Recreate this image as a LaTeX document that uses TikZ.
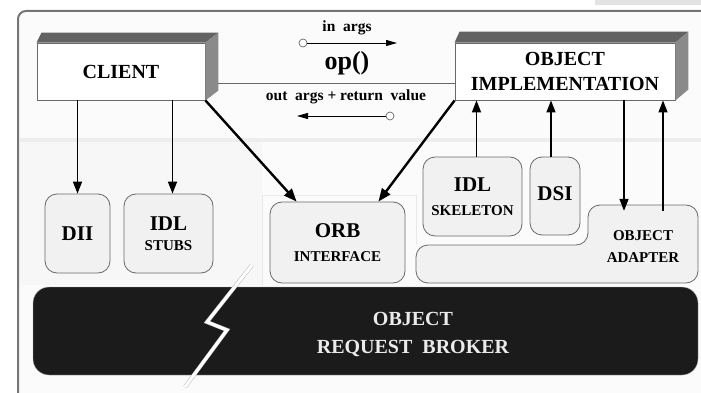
\documentclass[tikz,border=0pt]{standalone}
\usepackage{fontspec}
\setmainfont{Liberation Serif}
\usetikzlibrary{arrows.meta,positioning}
\definecolor{frameline}{RGB}{118,118,118}
\definecolor{paper}{RGB}{251,251,251}
\definecolor{boxfill}{RGB}{241,241,241}
\definecolor{boxline}{RGB}{105,105,105}
\definecolor{topface}{RGB}{98,98,98}
\definecolor{sideface}{RGB}{138,138,138}
\definecolor{orbblack}{RGB}{27,27,27}

\begin{document}
\begin{tikzpicture}[x=1pt,y=-1pt,
      block/.style={draw=boxline, fill=white, line width=0.9pt, minimum height=57pt, align=center, inner sep=0pt, font=\bfseries\fontsize{20}{25}\selectfont},
      unit/.style={draw=boxline, fill=boxfill, rounded corners=12pt, line width=0.8pt, align=center, inner sep=0pt, font=\bfseries\fontsize{21}{24}\selectfont},
      bus/.style={fill=orbblack, draw=gray!60, rounded corners=16pt, minimum width=665pt, minimum height=88pt},
      bustext/.style={text=white!92!black, align=center, font=\bfseries\fontsize{20}{28}\selectfont},
      lbl/.style={font=\bfseries\fontsize{15.5}{17}\selectfont},
      port/.style={circle, draw=boxline, fill=white, line width=0.7pt, inner sep=0pt, minimum size=8pt},
      parr/.style={-{Triangle[length=11pt,width=6pt]}, line width=0.8pt},
      arr/.style={-{Triangle[length=12pt,width=9pt]}, line width=1.5pt},
      darr/.style={-{Triangle[length=13pt,width=10pt]}, line width=2.4pt}
    ]
      \useasboundingbox (0,0) rectangle (701,393);
      % frame and background
      \fill[gray!22] (595,0) rectangle (701,5);
      \draw[frameline, line width=2pt, fill=paper, rounded corners=8pt] (18,11) rectangle (715,405);
      \draw[gray!14, line width=3pt] (20,140) -- (701,140);
      \fill[black!3] (20,142) rectangle (262,285);
      \draw[gray!18, line width=1pt] (262,285) -- (262,195) -- (416,195) -- (416,245);

      % the broker
      \node[bus] (orb) at (365.5,331) {};
      \node[bustext] (orbtext) at (413,334) {OBJECT\\REQUEST\ \ BROKER};
      \draw[gray!55, double=white, double distance=3pt, line width=0.5pt]
        (252,265) -- (207,322) -- (227,330) -- (185,387);

      % client and object implementation
      \node[block, minimum width=168pt] (client) at (121,71.5) {\raisebox{-5pt}{CLIENT}};
      \node[block, minimum width=220pt] (objimpl) at (565,71.5) {OBJECT\\IMPLEMENTATION};
      \fill[topface] (client.north west) -- ++(5,-10) -- ([shift={(13,-10)}]client.north east) -- (client.north east) -- cycle;
      \fill[sideface] (client.north east) -- ++(13,-10) -- ([shift={(13,-10)}]client.south east) -- (client.south east) -- cycle;
      \fill[topface] (objimpl.north west) -- ++(5,-11) -- ([shift={(13,-11)}]objimpl.north east) -- (objimpl.north east) -- cycle;
      \fill[sideface] (objimpl.north east) -- ++(13,-11) -- ([shift={(13,-11)}]objimpl.south east) -- (objimpl.south east) -- cycle;

      % the call
      \coordinate (opline) at (0,83);
      \draw[boxline, line width=0.8pt] ([xshift=13pt]client.east |- opline) -- (objimpl.west |- opline);
      \node[lbl] (inargs) at (347,28) {in\ \ args};
      \node[font=\bfseries\fontsize{26}{26}\selectfont] (opname) at (347,63) {op()};
      \node[lbl] (outargs) at (346,97) {out\ \ args + return\ \ value};
      \node[port] (inport) at (303,43) {};
      \coordinate (inend) at (397,43);
      \draw[parr] (inport) -- (inend);
      \node[port] (outport) at (390,116) {};
      \coordinate (outend) at (297,116);
      \draw[parr] (outport) -- (outend);

      % client side
      \node[unit, minimum width=65pt, minimum height=79pt] (dii) at (77.5,233.5) {DII};
      \node[unit, minimum width=89pt, minimum height=79pt] (stubs) at (168.5,233.5)
        {\raisebox{-4pt}{IDL}\\{\fontsize{15}{17}\selectfont STUBS}};
      \node[unit, minimum width=135pt, minimum height=81pt] (orbif) at (337.5,242.5)
        {ORB\\{\fontsize{15}{17}\selectfont INTERFACE}};

      % implementation side
      \node[unit, minimum width=99pt, minimum height=79pt] (skel) at (472.5,196.5)
        {IDL\\{\fontsize{15}{17}\selectfont SKELETON}};
      \node[unit, minimum width=50pt, minimum height=78pt] (dsi) at (555,196) {\raisebox{5pt}{DSI}};
      \draw[draw=boxline, fill=boxfill, line width=0.8pt, rounded corners=12pt]
        (416,245) -- (588,245) -- (588,205) -- (698,205) -- (698,283) -- (416,283) -- cycle;
      \node[align=center, inner sep=0pt, minimum width=110pt, minimum height=78pt, font=\bfseries\fontsize{15}{22}\selectfont] (adapter) at (643,247)
        {OBJECT\\ADAPTER};

      % connectors
      \draw[arr] (client.south -| dii.north) -- (dii.north);
      \draw[arr] ([xshift=4pt]client.south -| stubs.north) -- ([xshift=4pt]stubs.north);
      \draw[darr] (client.south east) -- (orbif.135);
      \draw[darr] (objimpl.south west) -- (orbif.45);
      \draw[arr] ([xshift=4pt]skel.north) -- ([xshift=4pt]skel.north |- objimpl.south);
      \draw[arr] ([xshift=-4pt]dsi.north) -- ([xshift=-4pt]dsi.north |- objimpl.south);
      \coordinate (down) at (624,0);
      \coordinate (up) at (663,0);
      \draw[arr] (objimpl.south -| down) -- ([yshift=-3pt]adapter.north -| down);
      \draw[arr] ([yshift=-3pt]adapter.north -| up) -- (objimpl.south -| up);
    \end{tikzpicture}
\end{document}
